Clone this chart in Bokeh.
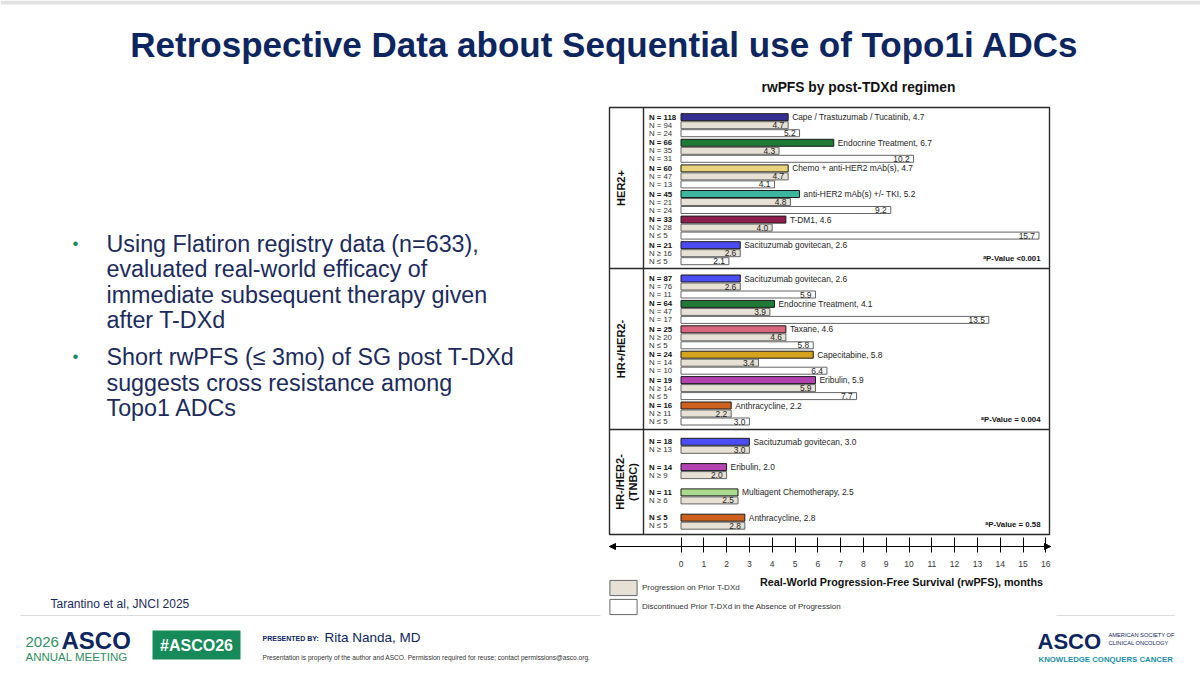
from math import pi

from bokeh.core.properties import value
from bokeh.embed import file_html
from bokeh.models import (Arrow, ColumnDataSource, FixedTicker, Legend,
                          LegendItem, LinearAxis, NormalHead, Range1d)
from bokeh.plotting import figure
from bokeh.resources import INLINE

# ---------------------------------------------------------------- data
her2_regimens = ["Cape / Trastuzumab / Tucatinib", "Endocrine Treatment",
                 "Chemo + anti-HER2 mAb(s)", "anti-HER2 mAb(s) +/- TKI",
                 "T-DM1", "Sacituzumab govitecan"]
her2_all = [4.7, 6.7, 4.7, 5.2, 4.6, 2.6]
her2_all_n = ["N = 118", "N = 66", "N = 60", "N = 45", "N = 33", "N = 21"]
her2_prog = [4.7, 4.3, 4.7, 4.8, 4.0, 2.6]
her2_prog_n = ["N = 94", "N = 35", "N = 47", "N = 21", "N ≥ 28", "N ≥ 16"]
her2_disc = [5.2, 10.2, 4.1, 9.2, 15.7, 2.1]
her2_disc_n = ["N = 24", "N = 31", "N = 13", "N = 24", "N ≤ 5", "N ≤ 5"]
her2_colors = ["#352f93", "#1f7a35", "#e8d27c", "#3db6a0", "#8c1d4c", "#4b4cf2"]

hrpos_regimens = ["Sacituzumab govitecan", "Endocrine Treatment", "Taxane",
                  "Capecitabine", "Eribulin", "Anthracycline"]
hrpos_all = [2.6, 4.1, 4.6, 5.8, 5.9, 2.2]
hrpos_all_n = ["N = 87", "N = 64", "N = 25", "N = 24", "N = 19", "N = 16"]
hrpos_prog = [2.6, 3.9, 4.6, 3.4, 5.9, 2.2]
hrpos_prog_n = ["N = 76", "N = 47", "N ≥ 20", "N = 14", "N ≥ 14", "N ≥ 11"]
hrpos_disc = [5.9, 13.5, 5.8, 6.4, 7.7, 3.0]
hrpos_disc_n = ["N = 11", "N = 17", "N ≤ 5", "N = 10", "N ≤ 5", "N ≤ 5"]
hrpos_colors = ["#4b4cf2", "#1f7a35", "#d9667e", "#d6a31c", "#b443b2", "#cf611f"]

tnbc_regimens = ["Sacituzumab govitecan", "Eribulin",
                 "Multiagent Chemotherapy", "Anthracycline"]
tnbc_all = [3.0, 2.0, 2.5, 2.8]
tnbc_all_n = ["N = 18", "N = 14", "N = 11", "N ≤ 5"]
tnbc_prog = [3.0, 2.0, 2.5, 2.8]
tnbc_prog_n = ["N ≥ 13", "N ≥ 9", "N ≥ 6", "N ≤ 5"]
tnbc_colors = ["#4b4cf2", "#b443b2", "#a9dc8e", "#cf611f"]

subtype_labels = [["HER2+"], ["HR+/HER2-"], ["HR-/HER2-", "(TNBC)"]]
p_values = ["ᵃP-Value <0.001", "ᵃP-Value = 0.004", "ᵃP-Value = 0.58"]
x_ticks = list(range(0, 17))

legend_labels = ["Progression on Prior T-DXd",
                 "Discontinued Prior T-DXd in the Absence of Progression"]

bullets = [
    ["Using Flatiron registry data (n=633),",
     "evaluated real-world efficacy of",
     "immediate subsequent therapy given",
     "after T-DXd"],
    ["Short rwPFS (≤ 3mo) of SG post T-DXd",
     "suggests cross resistance among",
     "Topo1 ADCs"],
]

# ---------------------------------------------------------------- layout
W, H = 1200, 678
PX_PER_MONTH = 22.8
ZERO_PX = 680.5
FONT_NAME = "Liberation Sans"
FONT = value(FONT_NAME)
NAVY = "#0d2660"
TEXT_NAVY = "#1c2b5c"
GREEN = "#188b5b"

# row layout of the three subtype panels: first row centre, group pitch
panels = [
    dict(reg=her2_regimens, all=her2_all, all_n=her2_all_n, prog=her2_prog,
         prog_n=her2_prog_n, disc=her2_disc, disc_n=her2_disc_n,
         colors=her2_colors, y0=116.7, pitch=25.6, top=107, bottom=268),
    dict(reg=hrpos_regimens, all=hrpos_all, all_n=hrpos_all_n, prog=hrpos_prog,
         prog_n=hrpos_prog_n, disc=hrpos_disc, disc_n=hrpos_disc_n,
         colors=hrpos_colors, y0=278.0, pitch=25.4, top=268, bottom=429),
    dict(reg=tnbc_regimens, all=tnbc_all, all_n=tnbc_all_n, prog=tnbc_prog,
         prog_n=tnbc_prog_n, disc=None, disc_n=None,
         colors=tnbc_colors, y0=441.3, pitch=25.3, top=429, bottom=534),
]
ROW = 8.0
BAR_H = 7.0
BOX_L, BOX_R, LABEL_COL = 609, 1049, 643
AXIS_Y = 546

all_src = dict(y=[], v=[], color=[], label=[])
prog_src = dict(y=[], v=[], label=[])
disc_src = dict(y=[], v=[], label=[])
n_bold = dict(y=[], text=[])
n_reg = dict(y=[], text=[])

for pnl in panels:
    for g, name in enumerate(pnl["reg"]):
        yc = pnl["y0"] + g * pnl["pitch"]
        all_src["y"].append(yc)
        all_src["v"].append(pnl["all"][g])
        all_src["color"].append(pnl["colors"][g])
        all_src["label"].append(f"{name}, {pnl['all'][g]:.1f}")
        n_bold["y"].append(yc)
        n_bold["text"].append(pnl["all_n"][g])

        prog_src["y"].append(yc + ROW)
        prog_src["v"].append(pnl["prog"][g])
        prog_src["label"].append(f"{pnl['prog'][g]:.1f}")
        n_reg["y"].append(yc + ROW)
        n_reg["text"].append(pnl["prog_n"][g])

        if pnl["disc"] is not None:
            disc_src["y"].append(yc + 2 * ROW)
            disc_src["v"].append(pnl["disc"][g])
            disc_src["label"].append(f"{pnl['disc'][g]:.1f}")
            n_reg["y"].append(yc + 2 * ROW)
            n_reg["text"].append(pnl["disc_n"][g])

all_cds = ColumnDataSource(all_src)
prog_cds = ColumnDataSource(prog_src)
disc_cds = ColumnDataSource(disc_src)

x_lo = (BOX_L - ZERO_PX) / PX_PER_MONTH
x_hi = (BOX_R + 1 - ZERO_PX) / PX_PER_MONTH

p = figure(width=W, height=H,
           x_range=Range1d(-ZERO_PX / PX_PER_MONTH, (W - ZERO_PX) / PX_PER_MONTH),
           y_range=Range1d(H, 0),
           x_axis_location=None, y_axis_location=None,
           output_backend="svg", toolbar_location=None,
           min_border=0, outline_line_color=None,
           background_fill_color="white", border_fill_color="white")
p.extra_x_ranges = {"px": Range1d(0, W)}
p.xgrid.visible = False
p.ygrid.visible = False

# ---------------------------------------------------------------- slide header
p.quad(left=[0], right=[W], top=[0], bottom=[4], fill_color="#e2e2e2",
       line_color=None, x_range_name="px")
p.text(x=[604], y=[44], text=["Retrospective Data about Sequential use of Topo1i ADCs"],
       text_font=FONT, text_font_style="bold", text_font_size="35px",
       text_color=NAVY, text_align="center", text_baseline="middle",
       x_range_name="px")

# bullets
by = 243
for block in bullets:
    p.text(x=[75], y=[by], text=["•"], text_font=FONT, text_font_size="17px",
           text_color=GREEN, text_align="center", text_baseline="middle",
           x_range_name="px")
    for line in block:
        p.text(x=[106], y=[by], text=[line], text_font=FONT,
               text_font_size="23.3px", text_color=TEXT_NAVY,
               text_baseline="middle", x_range_name="px")
        by += 25.6
    by += 11

# ---------------------------------------------------------------- chart
p.text(x=[858], y=[87], text=["rwPFS by post-TDXd regimen"], text_font=FONT,
       text_font_style="bold", text_font_size="13.8px", text_color="#111111",
       text_align="center", text_baseline="middle", x_range_name="px")

# panel frames
p.quad(left=[BOX_L], right=[BOX_R], top=[panels[0]["top"]],
       bottom=[panels[-1]["bottom"]], fill_color=None, line_color="#2a2a2a",
       line_width=1.4, x_range_name="px")
p.segment(x0=[BOX_L, BOX_L, LABEL_COL], x1=[BOX_R, BOX_R, LABEL_COL],
          y0=[panels[0]["bottom"], panels[1]["bottom"], panels[0]["top"]],
          y1=[panels[0]["bottom"], panels[1]["bottom"], panels[-1]["bottom"]],
          line_color="#2a2a2a", line_width=1.4, x_range_name="px")

# subtype labels (vertical)
for pnl, lines in zip(panels, subtype_labels):
    mid = (pnl["top"] + pnl["bottom"]) / 2
    xs = [620] if len(lines) == 1 else [619.5, 632]
    for xx, t in zip(xs, lines):
        p.text(x=[xx], y=[mid], text=[t], angle=pi / 2, text_font=FONT,
               text_font_style="bold", text_font_size="11px",
               text_color="#111111", text_align="center",
               text_baseline="middle", x_range_name="px")

# N labels
p.text(x="x", y="y", text="text",
       source=ColumnDataSource(dict(x=[648.5] * len(n_bold["y"]), **n_bold)),
       text_font=FONT, text_font_style="bold", text_font_size="7.8px",
       text_color="#111111", text_baseline="middle", x_range_name="px")
p.text(x="x", y="y", text="text",
       source=ColumnDataSource(dict(x=[648.5] * len(n_reg["y"]), **n_reg)),
       text_font=FONT, text_font_size="7.8px", text_color="#333333",
       text_baseline="middle", x_range_name="px")

# bars
p.hbar(y="y", left=0, right="v", height=BAR_H, source=all_cds,
       fill_color="color", line_color="#1b1b1b", line_width=1)
r_prog = p.hbar(y="y", left=0, right="v", height=BAR_H, source=prog_cds,
                fill_color="#e7e0d4", line_color="#666666", line_width=1)
r_disc = p.hbar(y="y", left=0, right="v", height=BAR_H, source=disc_cds,
                fill_color="white", line_color="#666666", line_width=1)

p.text(x="v", y="y", text="label", source=all_cds, x_offset=4,
       text_font=FONT, text_font_size="8.4px", text_color="#1e1e1e",
       text_baseline="middle")
for cds in (prog_cds, disc_cds):
    p.text(x="v", y="y", text="label", source=cds, x_offset=-4,
           text_font=FONT, text_font_size="8.4px", text_color="#1e1e1e",
           text_align="right", text_baseline="middle")

# p-values
for pnl, pv in zip(panels, p_values):
    p.text(x=[1040], y=[pnl["bottom"] - 10], text=[pv], text_font=FONT,
           text_font_style="bold", text_font_size="7.8px", text_color="#111111",
           text_align="right", text_baseline="middle", x_range_name="px")

# x axis
xaxis = LinearAxis(fixed_location=AXIS_Y, bounds=(x_lo, x_hi),
                   ticker=FixedTicker(ticks=x_ticks),
                   axis_line_color="black", axis_line_width=1.2,
                   major_tick_in=9, major_tick_out=6,
                   major_tick_line_color="black", major_tick_line_width=1,
                   minor_tick_line_color=None, major_label_standoff=8,
                   major_label_text_font=FONT_NAME,
                   major_label_text_font_size="8.5px",
                   major_label_text_color="#333333")
p.add_layout(xaxis, "below")
for xs, xe in ((x_lo + 0.3, x_lo), (x_hi - 0.3, x_hi)):
    p.add_layout(Arrow(end=NormalHead(size=6, fill_color="black",
                                      line_color="black"),
                       x_start=xs, x_end=xe, y_start=AXIS_Y, y_end=AXIS_Y,
                       line_color="black", line_width=1.2))

p.text(x=[901], y=[581], text=["Real-World Progression-Free Survival (rwPFS), months"],
       text_font=FONT, text_font_style="bold", text_font_size="10.8px",
       text_color="#111111", text_align="center", text_baseline="middle",
       x_range_name="px")

legend = Legend(items=[LegendItem(label=legend_labels[0], renderers=[r_prog]),
                       LegendItem(label=legend_labels[1], renderers=[r_disc])],
                location=(606, 62), orientation="vertical",
                glyph_width=34, glyph_height=19, label_height=19, spacing=-4,
                label_standoff=2, padding=0, margin=0,
                border_line_color=None, background_fill_alpha=0,
                label_text_font=FONT_NAME, label_text_font_size="8px",
                label_text_color="#333333")
p.add_layout(legend)

# ---------------------------------------------------------------- footer
p.text(x=[50], y=[603], text=["Tarantino et al, JNCI 2025"], text_font=FONT,
       text_font_size="12px", text_color=TEXT_NAVY, text_baseline="middle",
       x_range_name="px")
p.segment(x0=[20, 1056], x1=[600, 1174], y0=[615, 615], y1=[615, 615],
          line_color="#dcdcdc", line_width=1, x_range_name="px")

p.text(x=[25], y=[641], text=["2026"], text_font=FONT, text_font_size="15px",
       text_color="#2f8f62", text_baseline="middle", x_range_name="px")
p.text(x=[61], y=[640], text=["ASCO"], text_font=FONT, text_font_style="bold",
       text_font_size="24px", text_color=NAVY, text_baseline="middle",
       x_range_name="px")
p.text(x=[25], y=[656], text=["ANNUAL MEETING"], text_font=FONT,
       text_font_size="11.5px", text_color="#2f8f62", text_baseline="middle",
       x_range_name="px")
p.quad(left=[152], right=[240], top=[630], bottom=[659], fill_color="#178a59",
       line_color=None, x_range_name="px")
p.text(x=[196], y=[645], text=["#ASCO26"], text_font=FONT,
       text_font_style="bold", text_font_size="16px", text_color="white",
       text_align="center", text_baseline="middle", x_range_name="px")
p.text(x=[262], y=[638], text=["PRESENTED BY:"], text_font=FONT,
       text_font_style="bold", text_font_size="7px", text_color=NAVY,
       text_baseline="middle", x_range_name="px")
p.text(x=[324], y=[637], text=["Rita Nanda, MD"], text_font=FONT,
       text_font_size="13.5px", text_color=NAVY, text_baseline="middle",
       x_range_name="px")
p.text(x=[262], y=[657],
       text=["Presentation is property of the author and ASCO. Permission "
             "required for reuse; contact permissions@asco.org."],
       text_font=FONT, text_font_size="6.6px", text_color="#333333",
       text_baseline="middle", x_range_name="px")

p.text(x=[1037], y=[641], text=["ASCO"], text_font=FONT, text_font_style="bold",
       text_font_size="22px", text_color=NAVY, text_baseline="middle",
       x_range_name="px")
p.text(x=[1108, 1108], y=[634, 642],
       text=["AMERICAN SOCIETY OF", "CLINICAL ONCOLOGY"], text_font=FONT,
       text_font_size="5.7px", text_color=NAVY, text_baseline="middle",
       x_range_name="px")
p.text(x=[1038], y=[659], text=["KNOWLEDGE CONQUERS CANCER"], text_font=FONT,
       text_font_style="bold", text_font_size="7.8px", text_color="#1c8fa8",
       text_baseline="middle", x_range_name="px")

open("out.html", "w").write(file_html(p, INLINE))
